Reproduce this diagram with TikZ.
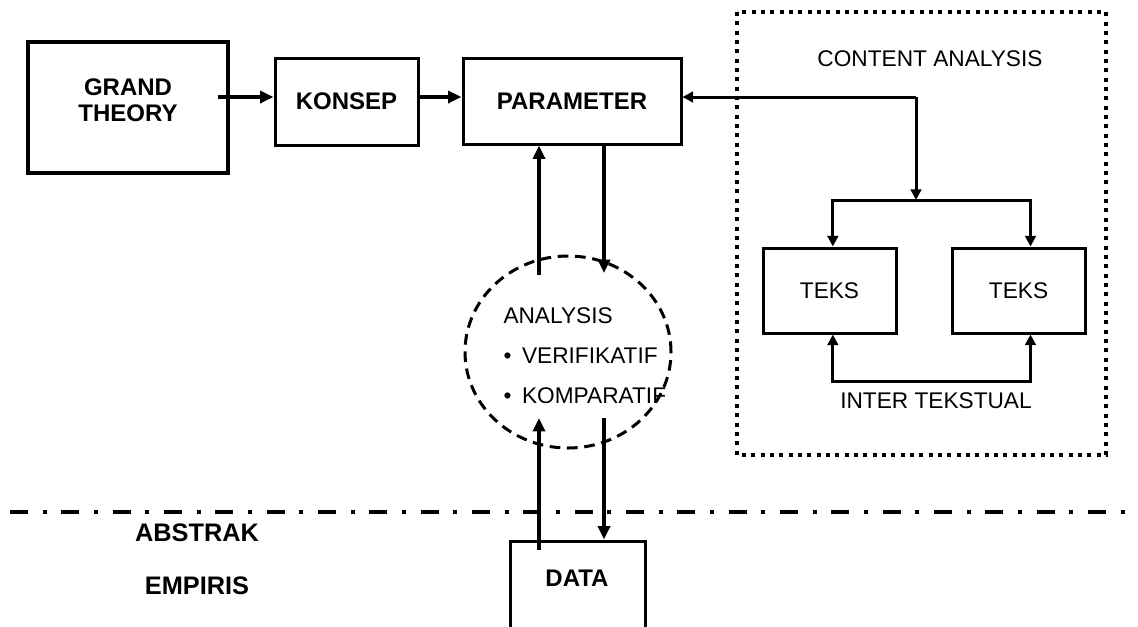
\documentclass[tikz,border=0pt]{standalone}
\usepackage{fontspec}
\setmainfont{Liberation Sans}
\usetikzlibrary{arrows.meta,shapes.geometric}

\tikzset{every picture/.style={line width=0.75pt}}
\tikzset{
  box/.style={draw,line width=2.25pt,inner sep=0pt},
  boldtxt/.style={font=\fontsize{18}{19.5}\selectfont\bfseries,align=center},
  plaintxt/.style={font=\fontsize{17}{20}\selectfont},
  arr/.style={line width=3pt,-{Triangle[length=10pt,width=9pt]}},
  arrs/.style={line width=2.25pt,-{Triangle[length=8pt,width=8pt]}},
  arrsb/.style={line width=2.25pt,{Triangle[length=8pt,width=8pt]}-{Triangle[length=8pt,width=8pt]}},
}

\begin{document}
\begin{tikzpicture}[x=0.75pt,y=0.75pt,yscale=-1,xscale=1]
\useasboundingbox (0,0) rectangle (1138,626);

\node[box,line width=3pt,minimum width=150pt,minimum height=98.25pt] (grand) at (128,107.5) {};
\node[boldtxt] (grandtxt) at (128,100) {GRAND\\THEORY};
\node[box,boldtxt,minimum width=107.25pt,minimum height=65.25pt] (konsep) at (346.5,101.5) {KONSEP};
\node[box,boldtxt,minimum width=163.5pt,minimum height=64.5pt] (param) at (572,101) {PARAMETER};

\coordinate (g1) at (218,97);
\draw[arr] (g1) -- (g1 -| konsep.west);
\draw[arr] (g1 -| konsep.east) -- (g1 -| param.west);

% content analysis
\draw[line width=3pt,dash pattern=on 3pt off 4pt] (737,12) rectangle (1106,455);
\node[plaintxt] (contenttxt) at (930,59) {CONTENT ANALYSIS};
\node[box,plaintxt,minimum width=99.75pt,minimum height=63.75pt] (teksa) at (829.5,290.5) {TEKS};
\node[box,plaintxt,minimum width=99.75pt,minimum height=63.75pt] (teksb) at (1018.5,290.5) {TEKS};
\coordinate (c1) at (916,97);
\coordinate (split) at (916,200);
\draw[arrs] (c1) -- (c1 -| param.east);
\draw[arrs] (c1) -- (split);
\draw[arrs] (split) -| ([xshift=2.5pt]teksa.north);
\draw[arrs] (split) -| ([xshift=9pt]teksb.north);
\draw[arrsb] ([xshift=2.5pt]teksa.south) -- ++(0,47) -| ([xshift=9pt]teksb.south);
\node[plaintxt] (intertxt) at (936,401) {INTER TEKSTUAL};

% analysis
\node[draw,ellipse,line width=2.25pt,dash pattern=on 8pt off 5pt,minimum width=154.5pt,minimum height=144pt] (anl) at (568,352) {};
\node[plaintxt,font=\fontsize{17}{30}\selectfont,anchor=west,align=left,inner sep=0pt] (anltxt) at (503,356)
  {ANALYSIS\\ •\hspace{8pt}VERIFIKATIF\\ •\hspace{8pt}KOMPARATIF};
\coordinate (u1) at (539,275);
\coordinate (d1) at (604,273);
\draw[arr] (u1) -- (u1 |- param.south);
\draw[arr] (d1 |- param.south) -- (d1);

% abstrak / empiris
\coordinate (ab1) at (10,512);
\coordinate (ab2) at (1138,512);
\draw[line width=3pt,dash pattern=on 13.5pt off 11pt on 3pt off 11pt] (ab1) -- (ab2);
\node[boldtxt,font=\fontsize{19}{20}\selectfont\bfseries] (abstxt) at (197,533) {ABSTRAK};
\node[boldtxt,font=\fontsize{19}{20}\selectfont\bfseries] (emptxt) at (197,586) {EMPIRIS};

\node[box,minimum width=101.25pt,minimum height=74.25pt] (data) at (577.5,590.5) {};
\node[boldtxt] (datatxt) at (577,578) {DATA};
\coordinate (u2) at (539,550);
\coordinate (u3) at (539,418);
\coordinate (d2) at (604,418);
\draw[arr] (u2) -- (u3);
\draw[arr] (d2) -- (d2 |- data.north);
\end{tikzpicture}
\end{document}
